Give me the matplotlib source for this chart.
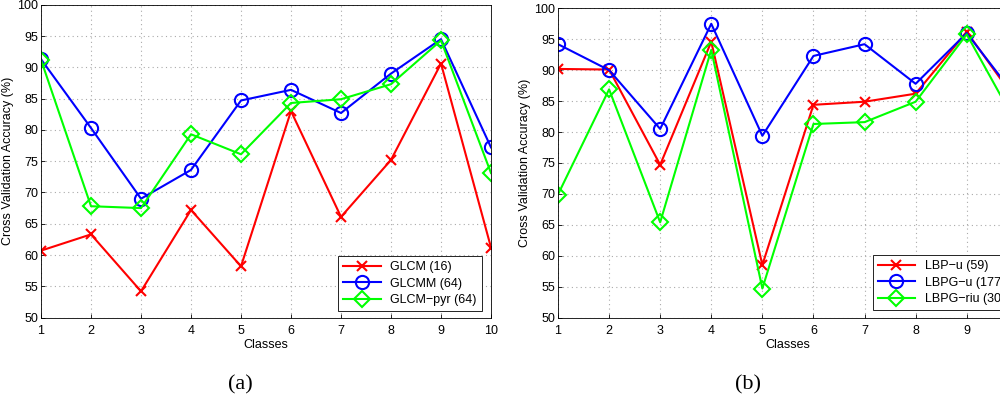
import matplotlib
matplotlib.use('Agg')
import matplotlib.pyplot as plt

# data
classes = [1, 2, 3, 4, 5, 6, 7, 8, 9, 10]

glcm     = [60.7, 63.3, 54.2, 67.2, 58.2, 83.0, 66.1, 75.2, 90.6, 61.2]
glcmm    = [91.3, 80.3, 69.0, 73.6, 84.7, 86.4, 82.7, 89.0, 94.5, 77.2]
glcm_pyr = [91.2, 67.8, 67.5, 79.3, 76.1, 84.3, 84.9, 87.3, 94.3, 73.1]

lbp_u    = [90.2, 90.1, 74.7, 94.6, 58.5, 84.4, 84.9, 86.2, 96.2, 84.7]
lbpg_u   = [94.2, 90.0, 80.5, 97.5, 79.4, 92.3, 94.2, 87.8, 96.0, 85.3]
lbpg_riu = [69.9, 86.9, 65.4, 93.3, 54.7, 81.3, 81.6, 84.9, 95.8, 80.9]

labels_a = ['GLCM (16)', 'GLCMM (64)', 'GLCM\u2212pyr (64)']
labels_b = ['LBP\u2212u (59)', 'LBPG\u2212u (177)', 'LBPG\u2212riu (30)']
yticks = [50, 55, 60, 65, 70, 75, 80, 85, 90, 95, 100]

plt.rcParams['font.family'] = ['Liberation Sans', 'DejaVu Sans']
plt.rcParams['font.size'] = 9

fig = plt.figure(figsize=(10, 3.96), dpi=100)
ax1 = fig.add_axes([0.041, 0.198, 0.450, 0.790])
ax2 = fig.add_axes([0.558, 0.198, 0.4598, 0.781])

styles = [dict(color=(1, 0, 0), marker='x', markersize=7, mew=1.5),
          dict(color=(0, 0, 1), marker='o', markersize=9.5, mew=1.5, mfc='none'),
          dict(color=(0, 1, 0), marker='D', markersize=8, mew=1.5, mfc='none')]

def draw(ax, series, labels, leg_anchor):
    for s, lab, st in zip(series, labels, styles):
        ax.plot(classes, s, lw=1.5, label=lab, **st)
    ax.set_xlim(1, 10)
    ax.set_ylim(50, 100)
    ax.set_xticks(classes)
    ax.set_yticks(yticks)
    ax.grid(True, color='#aaaaaa', linestyle=(0, (1, 3)), linewidth=0.8)
    ax.tick_params(direction='in', length=3, width=0.6, pad=2, labelsize=9)
    ax.tick_params(axis='x', pad=5)
    for sp in ax.spines.values():
        sp.set_linewidth(0.6)
    ax.set_xlabel('Classes', fontsize=9, labelpad=2)
    ax.set_ylabel('Cross Validation Accuracy (%)', fontsize=9, labelpad=2)
    leg = ax.legend(loc='lower left', bbox_to_anchor=leg_anchor, borderaxespad=0,
                    fontsize=9, handlelength=3.0, fancybox=False, framealpha=1,
                    edgecolor='black', labelspacing=0.35, borderpad=0.4)
    leg.get_frame().set_linewidth(0.6)

draw(ax1, [glcm, glcmm, glcm_pyr], labels_a, (0.66, 0.021))
draw(ax2, [lbp_u, lbpg_u, lbpg_riu], labels_b, (0.684, 0.024))

fig.text(0.240, 0.028, '(a)', family='Liberation Serif', fontsize=16, ha='center', va='center')
fig.text(0.748, 0.028, '(b)', family='Liberation Serif', fontsize=16, ha='center', va='center')

fig.savefig('out.png', dpi=100)
